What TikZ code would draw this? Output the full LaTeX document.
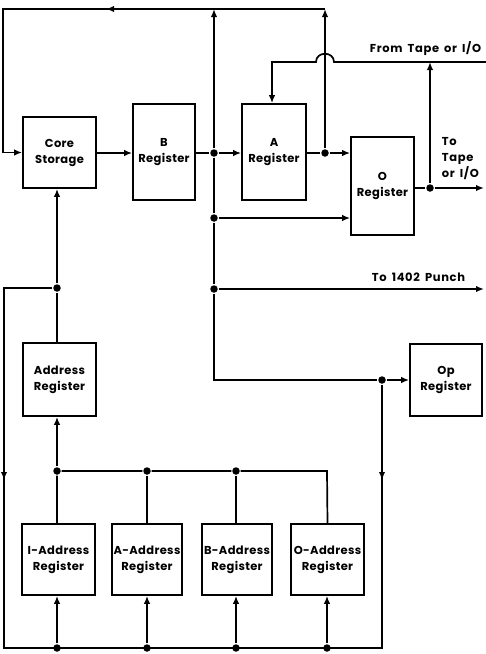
\documentclass[tikz,border=0pt]{standalone}
\usepackage{fontspec}
\setmainfont{Poppins}
\newfontfamily\regfont{Poppins}[LetterSpace=3]
\newfontfamily\lblfont{Poppins}[LetterSpace=6,WordSpace=1.6]
\usetikzlibrary{arrows.meta}
\begin{document}
\begin{tikzpicture}[x=1pt, y=-1pt, line width=1.7pt, >={Latex[length=8pt,width=6.5pt]},
	reg/.style={draw, align=center, inner sep=0pt, font=\regfont\fontsize{11.5}{16}\selectfont\bfseries},
	dot/.style={circle, fill, inner sep=0pt, minimum size=7.5pt},
	lbl/.style={inner sep=0pt, font=\lblfont\fontsize{11.5}{16}\selectfont\bfseries}]
	\useasboundingbox (0,0) rectangle (486,654);
	% registers
	\node[reg, minimum width=73pt, minimum height=71pt] (core) at (59.5,152.5) {Core\\Storage};
	\node[reg, minimum width=62pt, minimum height=96pt] (breg) at (164,152) {B\\Register};
	\node[reg, minimum width=64pt, minimum height=96pt] (areg) at (274,152) {A\\Register};
	\node[reg, minimum width=63pt, minimum height=98pt] (oreg) at (382.5,186) {O\\Register};
	\node[reg, minimum width=72pt, minimum height=72pt] (opreg) at (446,380) {Op\\Register};
	\node[reg, minimum width=73pt, minimum height=73pt] (addr) at (59.5,379.5) {Address\\Register};
	\node[reg, minimum width=73pt, minimum height=71pt] (ia) at (58.5,559.5) {I-Address\\Register};
	\node[reg, minimum width=70pt, minimum height=71pt] (aa) at (147,559.5) {A-Address\\Register};
	\node[reg, minimum width=70pt, minimum height=71pt] (ba) at (237,559.5) {B-Address\\Register};
	\node[reg, minimum width=73pt, minimum height=71pt] (oa) at (327.5,559.5) {O-Address\\Register};
	% junctions
	\node[dot] (d1) at (214,153) {};
	\node[dot] (d2) at (325,153) {};
	\node[dot] (d3) at (430,188) {};
	\node[dot] (d4) at (214,218) {};
	\node[dot] (d5) at (214,289) {};
	\node[dot] (d6) at (382,380) {};
	\node[dot] (d7) at (57,288) {};
	\node[dot] (d8) at (57,471) {};
	\node[dot] (d9) at (147,471) {};
	\node[dot] (d10) at (236,471) {};
	\foreach \n/\x in {b1/57,b2/147,b3/236,b4/327}{\node[dot] (\n) at (\x,648) {};}
	\coordinate (tl) at (3,9);
	\coordinate (tr) at (325,9);
	\coordinate (bl) at (4,648);
	\coordinate (br) at (382,648);
	% labels
	\node[lbl, anchor=south east] (fromtape) at (482,56) {From Tape or I/O};
	\node[lbl, anchor=north west, align=left] (totape) at (441,137) {To\\Tape\\or I/O};
	\node[lbl, anchor=south east] (punch) at (466,282) {To 1402 Punch};
	% data flow, top part
	\draw[->] (core.east |- 0,153) -- (breg.west |- 0,153);
	\draw (breg.east |- d1) -- (d1);
	\draw[->] (d1) -- (areg.west |- d1);
	\draw (areg.east |- d2) -- (d2);
	\draw[->] (d2) -- (oreg.west |- d2);
	\draw[->] (d1) -- (d1 |- tl);
	\draw[->] (d2) -- (tr);
	\draw[->] (tr) -- (106,9);
	\draw (110,9) -- (tl) -- (tl |- core.west);
	\draw[->] (tl |- core.west) -- (core.west);
	\draw[->] (486,62) -- (334,62) .. controls (334,51) and (316,51) .. (316,62) -- (272,62) -- (272,62 |- areg.north);
	\draw (oreg.east |- d3) -- (d3);
	\draw[->] (d3) -- (484,188);
	\draw[->] (d3) -- (430,62);
	\draw (d1) -- (d4) -- (d5) -- (214,380) -- (d6);
	\draw[->] (d4) -- (oreg.west |- d4);
	\draw[->] (d5) -- (484,289);
	\draw[->] (d6) -- (opreg.west |- d6);
	% address part
	\draw[->] (addr.north -| d7) -- (d7) -- (core.south -| d7);
	\draw (d7) -- (4,288) -- (4,478);
	\draw[->] (4,420) -- (4,480);
	\draw (4,470) -- (bl) -- (br) -- (382,470);
	\draw[->] (d6) -- (382,480);
	\draw[->] (d8) -- (addr.south -| d8);
	\draw (ia.north -| d8) -- (d8) -- (d9) -- (d10) -- (327,471) -- (oa.north);
	\draw (d9) -- (aa.north);
	\draw (d10) -- (ba.north -| d10);
	\foreach \n/\r in {b1/ia,b2/aa,b3/ba,b4/oa}{\draw[->] (\n) -- (\r.south -| \n);}
\end{tikzpicture}
\end{document}
